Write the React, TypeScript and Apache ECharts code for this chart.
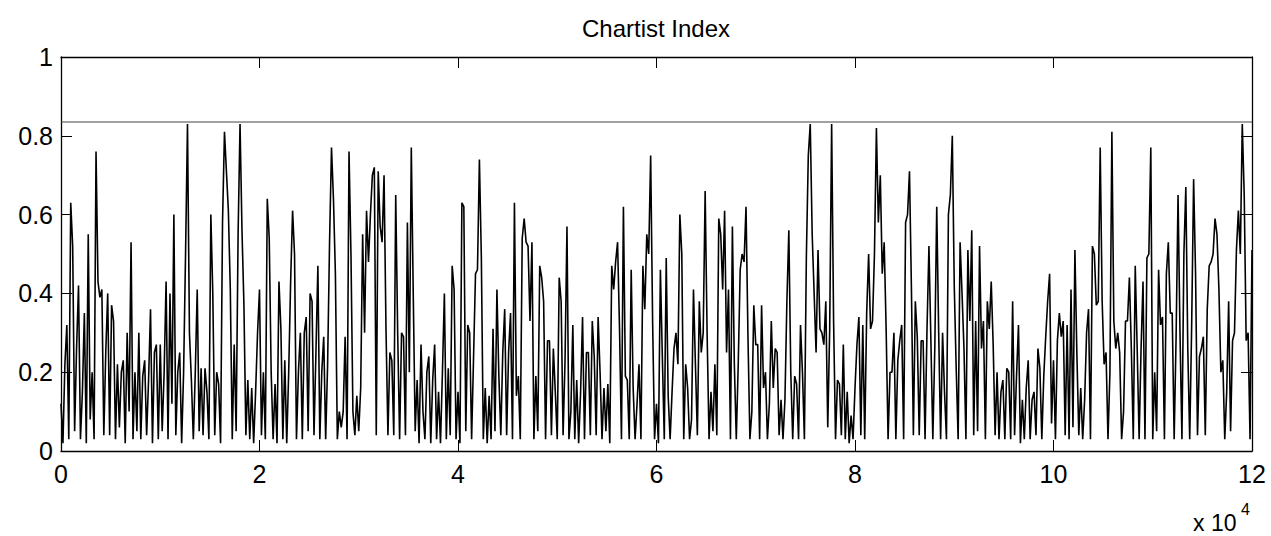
import React, { useEffect, useRef } from "react";
import * as echarts from "echarts";

const seg0 = [
  0.12,0.02,0.22,0.32,0.03,0.63,0.52,0.05,0.26,0.42,
  0.03,0.15,0.35,0.02,0.55,0.08,0.2,0.03,0.76,0.43,
  0.39,0.41,0.04,0.25,0.4,0.04,0.37,0.33,0.03,0.22,
  0.06,0.2,0.23,0.02,0.3,0.1,0.53,0.03,0.2,0.05,
  0.3,0.03,0.19,0.23,0.04,0.18,0.36,0.02,0.25,0.27,
  0.03,0.27,0.05,0.2,0.43,0.03,0.4,0.12,0.6,0.04,
  0.2,0.25,0.02,0.2,0.5,0.83,0.3,0.18,0.03,0.2,
  0.41,0.05,0.21,0.04,0.21,0.15,0.03,0.6,0.4,0.04,
  0.2,0.17,0.02,0.58,0.81,0.71,0.61,0.41,0.03,0.27,
  0.05,0.55,0.83,0.56,0.37,0.04,0.18,0.03,0.16,0.02,
];
const seg1 = [
  0.15,0.3,0.41,0.04,0.2,0.03,0.64,0.54,0.2,0.03,
  0.17,0.02,0.43,0.31,0.03,0.23,0.02,0.2,0.43,0.61,
  0.5,0.03,0.2,0.3,0.03,0.3,0.34,0.05,0.4,0.38,
  0.04,0.25,0.47,0.03,0.2,0.29,0.03,0.22,0.53,0.77,
  0.64,0.45,0.03,0.1,0.06,0.1,0.29,0.03,0.76,0.5,
  0.1,0.04,0.14,0.05,0.16,0.55,0.3,0.61,0.48,0.6,
  0.7,0.72,0.04,0.71,0.57,0.53,0.7,0.31,0.04,0.25,
  0.23,0.04,0.65,0.3,0.03,0.3,0.29,0.04,0.58,0.2,
  0.77,0.4,0.05,0.18,0.02,0.27,0.1,0.03,0.2,0.24,
  0.02,0.18,0.27,0.03,0.15,0.02,0.2,0.4,0.03,0.21,
];
const seg2 = [
  0.04,0.47,0.41,0.03,0.15,0.02,0.63,0.62,0.05,0.32,
  0.3,0.03,0.24,0.45,0.46,0.74,0.49,0.03,0.16,0.02,
  0.14,0.03,0.31,0.05,0.41,0.19,0.04,0.25,0.36,0.04,
  0.25,0.35,0.03,0.63,0.14,0.19,0.03,0.54,0.59,0.53,
  0.52,0.33,0.53,0.03,0.19,0.05,0.47,0.44,0.38,0.03,
  0.28,0.28,0.04,0.26,0.15,0.03,0.44,0.38,0.04,0.23,
  0.57,0.03,0.1,0.32,0.03,0.18,0.02,0.15,0.34,0.03,
  0.25,0.25,0.04,0.33,0.24,0.04,0.34,0.2,0.03,0.16,
  0.05,0.17,0.02,0.47,0.41,0.48,0.53,0.31,0.03,0.62,
  0.19,0.18,0.03,0.46,0.16,0.03,0.12,0.22,0.03,0.47,
];
const seg3 = [
  0.36,0.55,0.5,0.75,0.33,0.03,0.12,0.02,0.46,0.24,
  0.03,0.49,0.14,0.03,0.15,0.26,0.3,0.22,0.6,0.5,
  0.03,0.22,0.16,0.03,0.08,0.41,0.22,0.04,0.38,0.25,
  0.3,0.66,0.3,0.03,0.15,0.05,0.22,0.04,0.59,0.55,
  0.41,0.61,0.25,0.41,0.03,0.57,0.22,0.03,0.22,0.46,
  0.5,0.48,0.62,0.29,0.03,0.1,0.37,0.27,0.27,0.03,
  0.37,0.16,0.2,0.03,0.12,0.33,0.16,0.26,0.25,0.04,
  0.13,0.03,0.13,0.38,0.56,0.2,0.03,0.19,0.17,0.03,
  0.32,0.2,0.03,0.49,0.75,0.83,0.55,0.4,0.25,0.51,
  0.31,0.3,0.27,0.38,0.06,0.31,0.83,0.33,0.03,0.18,
];
const seg4 = [
  0.17,0.04,0.27,0.03,0.15,0.02,0.09,0.03,0.16,0.27,
  0.34,0.04,0.32,0.03,0.35,0.5,0.31,0.33,0.5,0.82,
  0.58,0.7,0.45,0.53,0.31,0.03,0.2,0.2,0.3,0.03,
  0.23,0.28,0.32,0.03,0.58,0.6,0.71,0.41,0.04,0.38,
  0.29,0.04,0.28,0.28,0.03,0.31,0.52,0.28,0.03,0.26,
  0.62,0.3,0.03,0.3,0.15,0.03,0.6,0.65,0.8,0.42,
  0.21,0.03,0.53,0.4,0.26,0.03,0.51,0.33,0.56,0.04,
  0.33,0.05,0.52,0.26,0.33,0.03,0.38,0.31,0.43,0.27,
  0.04,0.2,0.03,0.15,0.18,0.03,0.21,0.2,0.03,0.38,
  0.04,0.19,0.32,0.02,0.13,0.03,0.16,0.23,0.03,0.13,
];
const seg5 = [
  0.15,0.04,0.26,0.21,0.03,0.19,0.29,0.38,0.45,0.07,
  0.23,0.03,0.28,0.35,0.29,0.33,0.04,0.32,0.03,0.41,
  0.06,0.51,0.25,0.04,0.16,0.03,0.13,0.3,0.36,0.03,
  0.52,0.5,0.37,0.38,0.77,0.38,0.22,0.25,0.03,0.2,
  0.81,0.33,0.26,0.3,0.25,0.03,0.1,0.33,0.33,0.44,
  0.26,0.03,0.47,0.26,0.03,0.26,0.43,0.03,0.49,0.5,
  0.77,0.03,0.2,0.05,0.46,0.32,0.34,0.03,0.45,0.53,
  0.35,0.35,0.03,0.29,0.65,0.3,0.03,0.5,0.67,0.26,
  0.03,0.32,0.69,0.45,0.04,0.24,0.26,0.29,0.04,0.36,
  0.47,0.48,0.5,0.59,0.55,0.41,0.2,0.23,0.03,0.15,
  0.38,0.05,0.28,0.3,0.51,0.61,0.5,0.83,0.65,0.28,
  0.3,0.03,0.51,
];

const chartistIndex = [...seg0, ...seg1, ...seg2, ...seg3, ...seg4, ...seg5];
const X_MIN = 0;
const X_MAX = 120000;
const X_INTERVAL = 20000;
const Y_MIN = 0;
const Y_MAX = 1;
const Y_INTERVAL = 0.2;
const THRESHOLD = 0.835;
const TITLE = "Chartist Index";
const X_SCALE_BASE = "x 10";
const X_SCALE_EXP = "4";

const FONT = '"Liberation Sans", Arial, Helvetica, sans-serif';

export default function App() {
  const ref = useRef<HTMLDivElement>(null);

  useEffect(() => {
    if (!ref.current) return;
    const chart = echarts.init(ref.current, undefined, { renderer: "svg" });
    const step = (X_MAX - X_MIN) / (chartistIndex.length - 1);
    const lineData = chartistIndex.map((v, i) => [X_MIN + i * step, v]);

    const axisCommon = {
      type: "value" as const,
      axisLine: { show: true, onZero: false, lineStyle: { color: "#000", width: 1.3 } },
      axisTick: { show: true, inside: true, length: 11, lineStyle: { color: "#000", width: 1 } },
      splitLine: { show: false },
    };

    chart.setOption({
      animation: false,
      backgroundColor: "#fff",
      grid: { left: 61, right: 19, top: 57, bottom: 85, containLabel: false },
      xAxis: [
        {
          ...axisCommon,
          position: "bottom",
          min: X_MIN,
          max: X_MAX,
          interval: X_INTERVAL,
          axisLabel: {
            color: "#000",
            fontSize: 25,
            fontFamily: FONT,
            margin: 10,
            formatter: (v: number) => String(v / 10000),
          },
        },
        {
          ...axisCommon,
          position: "top",
          min: X_MIN,
          max: X_MAX,
          interval: X_INTERVAL,
          axisLabel: { show: false },
        },
      ],
      yAxis: [
        {
          ...axisCommon,
          position: "left",
          min: Y_MIN,
          max: Y_MAX,
          interval: Y_INTERVAL,
          axisLabel: { color: "#000", fontSize: 25, fontFamily: FONT, margin: 8 },
        },
        {
          ...axisCommon,
          position: "right",
          min: Y_MIN,
          max: Y_MAX,
          interval: Y_INTERVAL,
          axisLabel: { show: false },
        },
      ],
      series: [
        {
          type: "line",
          name: "threshold",
          xAxisIndex: 0,
          yAxisIndex: 0,
          data: [[X_MIN, THRESHOLD], [X_MAX, THRESHOLD]],
          showSymbol: false,
          symbol: "none",
          lineStyle: { color: "#444", width: 1 },
          silent: true,
        },
        {
          type: "line",
          name: TITLE,
          xAxisIndex: 0,
          yAxisIndex: 0,
          data: lineData,
          showSymbol: false,
          symbol: "none",
          lineStyle: { color: "#000", width: 1.6 },
          silent: true,
        },
      ],
      graphic: [
        {
          type: "text",
          x: 656,
          y: 28,
          style: {
            text: TITLE,
            font: `24px ${FONT}`,
            fill: "#000",
            textAlign: "center",
            textVerticalAlign: "middle",
          },
        },
        {
          type: "text",
          x: 1193,
          y: 523,
          style: {
            text: X_SCALE_BASE,
            font: `23px ${FONT}`,
            fill: "#000",
            textAlign: "left",
            textVerticalAlign: "middle",
          },
        },
        {
          type: "text",
          x: 1241,
          y: 509,
          style: {
            text: X_SCALE_EXP,
            font: `16px ${FONT}`,
            fill: "#000",
            textAlign: "left",
            textVerticalAlign: "middle",
          },
        },
      ],
    });

    return () => {
      chart.dispose();
    };
  }, []);

  return (
    <div
      ref={ref}
      style={{ position: "fixed", left: 0, top: 0, width: 1271, height: 536, background: "#fff" }}
    />
  );
}
